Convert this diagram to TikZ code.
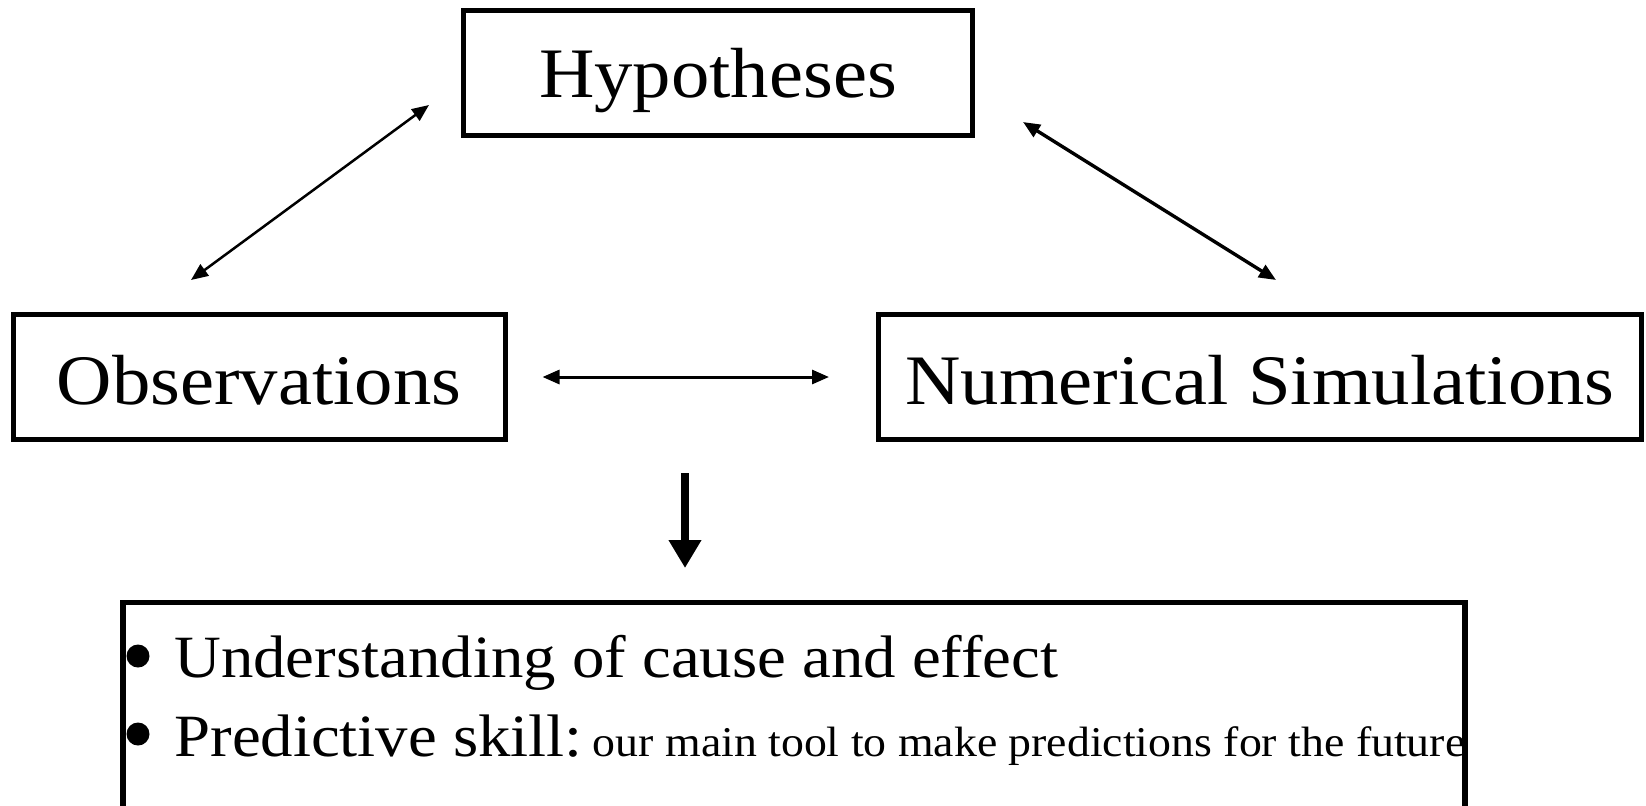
\documentclass[tikz,border=0pt]{standalone}
\usepackage{fontspec}
\setmainfont[FakeStretch=1.08]{Liberation Serif}
\usetikzlibrary{arrows.meta}
\begin{document}
\begin{tikzpicture}[x=0.5pt,y=-0.5pt,
  box/.style={draw,line width=2.5pt,inner sep=0pt,align=center,
    font=\fontsize{35.5}{40}\selectfont},
  thinarrow/.style={{Triangle[length=8.5pt,width=7pt]}-{Triangle[length=8.5pt,width=7pt]},line width=1.25pt},
  bigarrow/.style={-{Triangle[length=14pt,width=15.5pt]},line width=4.3pt},
  bullet/.style={circle,fill=black,inner sep=0pt,minimum size=11.5pt},
  btext/.style={anchor=base west,inner sep=0pt,font=\fontsize{30}{34}\selectfont}]
\useasboundingbox (0,0) rectangle (1646,805);
\fill[white] (0,0) rectangle (1646,805);

\node[box,minimum width=254.5pt,minimum height=62.5pt,text height=24.6pt,text depth=0pt] (hyp) at (718,73) {Hypotheses};
\node[box,minimum width=246pt,minimum height=62.5pt,text height=27pt,text depth=0pt] (obs) at (259,377) {Observations};
\node[box,minimum width=381.5pt,minimum height=62.5pt,text height=27pt,text depth=0pt] (num) at (1260,377) {Numerical Simulations};
\node[draw,line width=2.8pt,minimum width=671pt,minimum height=150pt,inner sep=0pt] (res) at (794,752.5) {};

\coordinate (hypL) at (429,105);
\coordinate (obsT) at (191,280);
\coordinate (hypR) at (1023,122);
\coordinate (numT) at (1276,280);
\coordinate (midT) at (685,473);
\coordinate (resT) at (685,568);

\draw[thinarrow] (obsT) -- (hypL);
\draw[thinarrow,line width=1.7pt] (hypR) -- (numT);
\draw[thinarrow,line width=1.5pt,shorten <=17.5pt,shorten >=23.5pt] (obs.east) -- (num.west);
\draw[bigarrow] (midT) -- (resT);

\node[bullet] (b1) at (138,656) {};
\node[bullet] (b2) at (138,734) {};
\node[btext] (t1) at (174,677) {Understanding of cause and effect};
\node[btext] (t2) at (174,756) {Predictive skill:\hspace{5pt}{\fontsize{21.2}{24}\selectfont our main tool to make predictions for the future}};
\end{tikzpicture}
\end{document}
